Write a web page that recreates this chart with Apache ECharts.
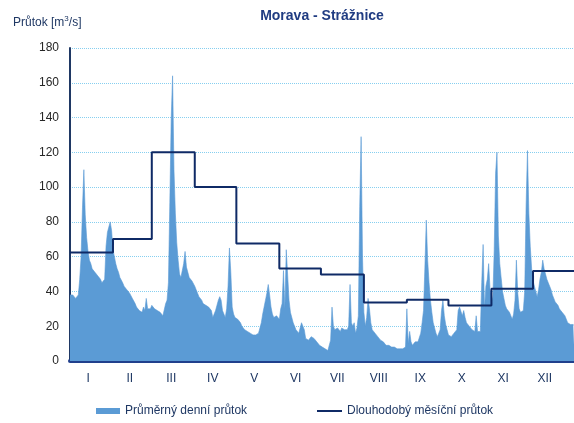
<!DOCTYPE html>
<html>
<head>
<meta charset="utf-8">
<script src="https://cdn.jsdelivr.net/npm/echarts@6/dist/echarts.min.js"></script>
<style>
html,body{margin:0;padding:0;background:#fff;}
#chart{width:574px;height:423px;}
</style>
</head>
<body>
<div id="chart"></div>
<script>
// denni prutoky po mesicich
var jan=[38,37,38,37,36,35,38,47,60,88,110,84,71,63,58,56,53,52,51,50,49,48,47,45,44,47,66,74,77,80,75];
var feb=[64,60,56,53,51,48,47,45,43,42,41,40,39,38,36,35,33,31,30,29,30,28,31,29,36,30,31,30];
var mar=[32,31,30,29,29,28,28,27,26,27,33,35,45,91,139,164,110,85,68,58,50,48,49,56,63,54,51,48,47,46,45];
var apr=[43,41,39,37,36,35,33,33,32,31,31,30,29,25,26,29,32,35,37,35,29,27,25,30,43,65,51,31,27,25];
var may=[24,24,23,22,20,19,18,17,17,16,16,16,15,15,15,15,16,17,22,27,31,35,39,44,38,31,27,25,24,26,25];
var jun=[24,30,33,52,30,64,65,35,28,25,22,20,18,17,16,19,22,20,18,13,12,12,13,14,14,13,12,11,10,9];
var jul=[9,8,8,7,6,6,6,12,31,20,18,17,19,18,17,19,19,18,17,18,20,44,22,20,22,16,19,26,89,129,60];
var aug=[28,20,25,36,30,22,18,17,16,15,14,13,12,11,11,10,9,9,9,8,8,8,8,8,7,7,7,7,7,6,8];
var sep=[30,10,17,11,9,10,11,10,11,10,16,22,29,54,81,58,45,35,28,22,19,16,14,16,18,29,35,26,21,18];
var oct=[15,14,14,15,16,17,18,29,31,30,26,29,25,22,21,20,20,18,17,17,26,17,16,17,45,67,30,43,47,56,41];
var nov=[41,35,64,108,120,72,56,48,40,36,32,30,29,28,26,24,27,35,58,39,30,28,29,29,40,89,121,85,66,53];
var dec=[46,43,40,37,41,47,51,58,53,50,47,45,43,41,38,37,34,33,32,30,29,28,27,26,25,22,21,21,20,21,20];

// dlouhodoby mesicni prutok
var monthNames=['I','II','III','IV','V','VI','VII','VIII','IX','X','XI','XII'];
var monthStart=[0,31,59,90,120,151,181,212,243,273,304,334,365];
var monthlyFlow=[62.4,70.1,120,100,67.6,53.2,49.8,33.6,35.2,31.9,41.5,51.7];

var daily=[].concat(jan,feb,mar,apr,may,jun,jul,aug,sep,oct,nov,dec);
var dailyData=[];
for(var i=0;i<daily.length;i++){
	dailyData.push([i,daily[i]]);
}
var stepData=[];
for(var m=0;m<monthlyFlow.length;m++){
	stepData.push([monthStart[m],monthlyFlow[m]]);
}
stepData.push([monthStart[12],monthlyFlow[11]]);

var navy='#1f3864';
var mychart=echarts.init(document.getElementById('chart'));
var option={
	animation:false,
	title:[
		{
			text:'Morava - Strážnice',
			left:317,
			textAlign:'center',
			top:4,
			textStyle:{fontFamily:'Liberation Sans',fontSize:14,fontWeight:'bold',color:'#203c82'}
		},
		{
			text:'{a|Průtok [m}{s|3}{a|/s]}',
			left:8,
			top:10,
			textStyle:{
				rich:{
					a:{fontFamily:'Liberation Sans',fontSize:12,fontWeight:'normal',color:navy,lineHeight:16},
					s:{fontFamily:'Liberation Sans',fontSize:8,fontWeight:'normal',color:navy,verticalAlign:'top',lineHeight:16,padding:[0,0,6,0]}
				}
			}
		}
	],
	legend:[
		{
			left:91,
			top:400,
			itemWidth:24,
			itemHeight:6,
			icon:'rect',
			data:['Průměrný denní průtok'],
			textStyle:{fontFamily:'Liberation Sans',fontSize:12,color:navy}
		},
		{
			left:312,
			top:400,
			itemWidth:25,
			itemHeight:2,
			icon:'rect',
			data:['Dlouhodobý měsíční průtok'],
			textStyle:{fontFamily:'Liberation Sans',fontSize:12,color:navy}
		}
	],
	grid:[
		{left:70,top:48,width:506,height:313,outerBoundsMode:'none'},
		{left:67.5,top:48,width:498,height:313,outerBoundsMode:'none'}
	],
	xAxis:[
		{
			type:'value',
			gridIndex:0,
			min:0,
			max:365,
			axisLine:{show:true,lineStyle:{color:'#203f8c',width:4}},
			axisTick:{show:false},
			axisLabel:{show:false},
			splitLine:{show:false}
		},
		{
			type:'category',
			gridIndex:1,
			data:monthNames,
			boundaryGap:true,
			axisLine:{show:false},
			axisTick:{show:false},
			axisLabel:{margin:12,fontFamily:'Liberation Sans',fontSize:12,color:navy,interval:0}
		}
	],
	yAxis:[
		{
			type:'value',
			gridIndex:0,
			min:0,
			max:180,
			interval:20,
			axisLine:{show:true,lineStyle:{color:navy,width:2}},
			axisTick:{show:false},
			axisLabel:{margin:11,fontFamily:'Liberation Sans',fontSize:12,color:'#262626'},
			splitLine:{show:true,lineStyle:{color:'#86cff0',type:'dotted',width:1}}
		},
		{
			type:'value',
			gridIndex:1,
			show:false
		}
	],
	series:[
		{
			name:'Průměrný denní průtok',
			type:'line',
			xAxisIndex:0,
			yAxisIndex:0,
			data:dailyData,
			showSymbol:false,
			itemStyle:{color:'#5b9bd5'},
			lineStyle:{width:0.6,color:'#5b9bd5'},
			areaStyle:{color:'#5b9bd5',opacity:1},
			z:2
		},
		{
			name:'Dlouhodobý měsíční průtok',
			type:'line',
			xAxisIndex:0,
			yAxisIndex:0,
			step:'end',
			data:stepData,
			showSymbol:false,
			itemStyle:{color:'#0f2a66'},
			lineStyle:{width:2,color:'#0f2a66'},
			z:3
		}
	]
};
mychart.setOption(option);
</script>
</body>
</html>
